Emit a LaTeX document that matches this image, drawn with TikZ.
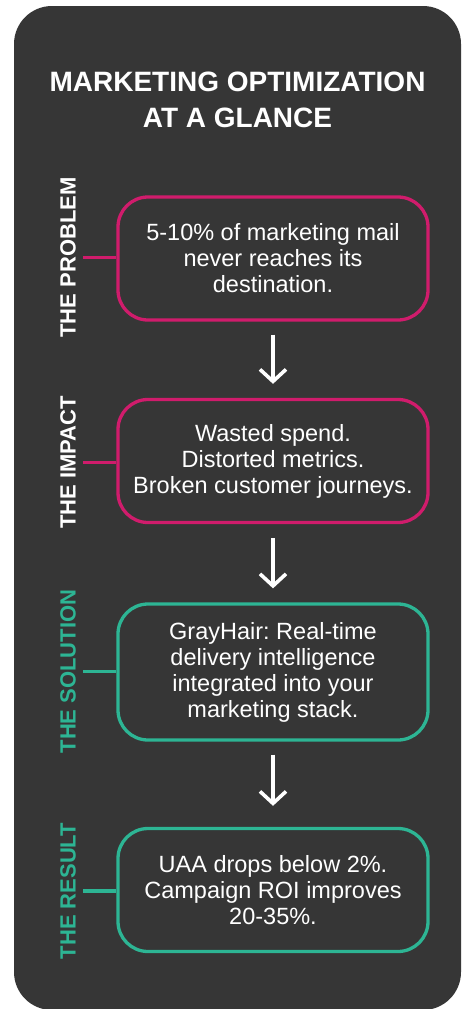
\documentclass[tikz,border=0pt]{standalone}
\usepackage{fontspec}
\setmainfont{Liberation Sans}
\usetikzlibrary{arrows.meta}
\definecolor{panel}{HTML}{363636}
\definecolor{hot}{HTML}{D01C6C}
\definecolor{mint}{HTML}{2DB594}
\frenchspacing
\begin{document}
\begin{tikzpicture}[x=1pt,y=-1pt,
    box/.style={draw=#1,line width=3.3pt,rounded corners=30pt,minimum width=310pt,minimum height=123pt,
      inner sep=0pt,align=center,text=white,font=\fontsize{23.5}{26}\selectfont},
    tag/.style={rotate=90,text=#1,font=\bfseries\fontsize{22}{22}\selectfont,inner xsep=0pt,inner ysep=7pt},
    link/.style={draw=#1,line width=3.3pt},
    flow/.style={draw=white,line width=3.6pt,-{Straight Barb[length=12pt,width=26pt]}}]
    \useasboundingbox (0,0) rectangle (466,1009);
    \fill[white] (0,0) rectangle (466,1009);
    \fill[panel,rounded corners=38pt] (14,6) rectangle (461,1010);
    % title
    \node[text=white,align=center,font=\bfseries\fontsize{28}{36}\selectfont] (title) at (237.5,100)
        {MARKETING OPTIMIZATION\\AT A GLANCE};
    % steps
    \node[box=hot] (prob) at (273,258.5) {5-10\% of marketing mail\\never reaches its\\destination.};
    \node[box=hot] (imp) at (273,461) {Wasted spend.\\Distorted metrics.\\Broken customer journeys.};
    \node[box=mint,minimum height=136pt] (sol) at (273,672) {GrayHair: Real-time\\delivery intelligence\\integrated into your\\marketing stack.};
    \node[box=mint] (res) at (273,890) {UAA drops below 2\%.\\Campaign ROI improves\\20-35\%.};
    % side tags
    \node[tag=white] (tProb) at (68,257.5) {THE PROBLEM};
    \node[tag=white] (tImp) at (68,462.5) {THE IMPACT};
    \node[tag=mint] (tSol) at (68,671.5) {THE SOLUTION};
    \node[tag=mint] (tRes) at (68,891) {THE RESULT};
    \draw[link=hot] (tProb.south) -- (tProb.south -| prob.west);
    \draw[link=hot] (tImp.south) -- (tImp.south -| imp.west);
    \draw[link=mint] (tSol.south) -- (tSol.south -| sol.west);
    \draw[link=mint] (tRes.south) -- (tRes.south -| res.west);
    % arrows
    \draw[flow,shorten <=13pt,shorten >=14pt] (prob) -- (imp);
    \draw[flow,shorten <=14pt,shorten >=14pt] (imp) -- (sol);
    \draw[flow,shorten <=13pt,shorten >=21pt] (sol) -- (res);
\end{tikzpicture}
\end{document}
